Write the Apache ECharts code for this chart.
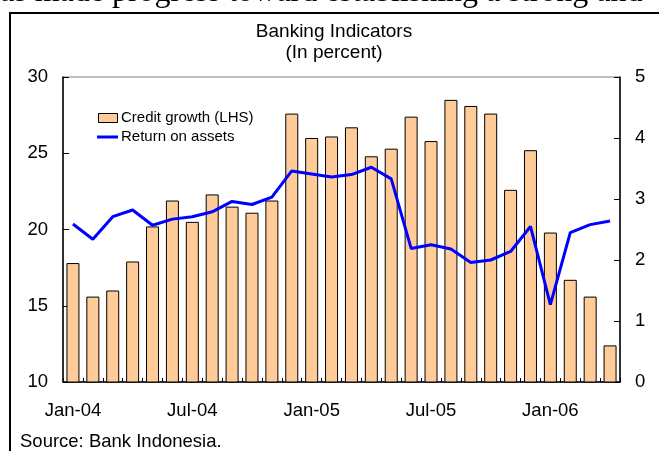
<!DOCTYPE html>
<html>
<head>
<meta charset="utf-8">
<script src="https://cdn.jsdelivr.net/npm/echarts@6/dist/echarts.min.js"></script>
<style>
  html, body { margin: 0; padding: 0; background: #fff; }
  #chart { width: 659px; height: 451px; }
</style>
</head>
<body>
<div id="chart"></div>
<script>
// Monthly categories, Jan-04 .. Apr-06
const months = [
  'Jan-04','Feb-04','Mar-04','Apr-04','May-04','Jun-04','Jul-04','Aug-04','Sep-04','Oct-04','Nov-04','Dec-04',
  'Jan-05','Feb-05','Mar-05','Apr-05','May-05','Jun-05','Jul-05','Aug-05','Sep-05','Oct-05','Nov-05','Dec-05',
  'Jan-06','Feb-06','Mar-06','Apr-06'
];

// Credit growth, percent (left axis)
const creditGrowth = [
  17.8, 15.6, 16.0, 17.9, 20.2, 21.9, 20.5, 22.3, 21.5, 21.1, 21.9, 27.6,
  26.0, 26.1, 26.7, 24.8, 25.3, 27.4, 25.8, 28.5, 28.1, 27.6, 22.6, 25.2,
  19.8, 16.7, 15.6, 12.4
];

// Return on assets, percent (right axis)
const returnOnAssets = [
  2.59, 2.34, 2.71, 2.82, 2.57, 2.67, 2.71, 2.79, 2.96, 2.91, 3.03, 3.46,
  3.41, 3.36, 3.40, 3.52, 3.33, 2.19, 2.25, 2.18, 1.96, 2.00, 2.14, 2.55,
  1.27, 2.45, 2.58, 2.64
];

const leftTicks = { min: 10, max: 30, interval: 5 };
const rightTicks = { min: 0, max: 5, interval: 1 };

const seriesNames = ['Credit growth (LHS)', 'Return on assets'];
const barColor = '#ffcc99';
const lineColor = '#0000ff';

const sansFont = '"Liberation Sans", Arial, sans-serif';
const fs = 18.5;

const chart = echarts.init(document.getElementById('chart'), null, { renderer: 'canvas' });

chart.setOption({
  backgroundColor: '#ffffff',
  animation: false,
  graphic: [
    // running text line of the surrounding page
    {
      type: 'text',
      left: 0,
      top: -23,
      style: {
        text: 'as made progress toward establishing a strong and',
        font: '32px "Liberation Serif", "Times New Roman", serif',
        fill: '#000'
      }
    },
    // figure frame
    {
      type: 'rect',
      shape: { x: 10, y: 13, width: 700, height: 500 },
      style: { fill: 'none', stroke: '#000', lineWidth: 2 }
    },
    // chart title
    {
      type: 'text',
      x: 334, y: 21,
      style: {
        text: 'Banking Indicators\n(In percent)',
        font: '19px ' + sansFont,
        lineHeight: 21,
        fill: '#000',
        align: 'center'
      }
    },
    // legend
    {
      type: 'rect',
      shape: { x: 98.5, y: 113.5, width: 19, height: 9 },
      style: { fill: barColor, stroke: '#000', lineWidth: 1 },
      z: 10
    },
    {
      type: 'text',
      x: 121, y: 118,
      style: { text: seriesNames[0], font: '15px ' + sansFont, fill: '#000', verticalAlign: 'middle' },
      z: 10
    },
    {
      type: 'line',
      shape: { x1: 97, y1: 137, x2: 118, y2: 137 },
      style: { stroke: lineColor, lineWidth: 3 },
      z: 10
    },
    {
      type: 'text',
      x: 121, y: 137,
      style: { text: seriesNames[1], font: '15px ' + sansFont, fill: '#000', verticalAlign: 'middle' },
      z: 10
    },
    // source note
    {
      type: 'text',
      left: 20,
      top: 432,
      style: { text: 'Source: Bank Indonesia.', font: fs + 'px ' + sansFont, fill: '#000' }
    }
  ],
  legend: { show: false },
  grid: {
    left: 63,
    right: 39,
    top: 77,
    bottom: 69,
    show: true,
    borderColor: '#7f7f7f',
    borderWidth: 1
  },
  xAxis: {
    type: 'category',
    data: months,
    boundaryGap: true,
    axisLine: { lineStyle: { color: '#000', width: 1.5 } },
    axisTick: { show: true, inside: true, length: 4, interval: 0, lineStyle: { color: '#000' } },
    axisLabel: {
      interval: 5,
      margin: 19,
      fontFamily: sansFont,
      fontSize: fs,
      color: '#000'
    },
    splitLine: { show: false }
  },
  yAxis: [
    {
      type: 'value',
      min: leftTicks.min,
      max: leftTicks.max,
      interval: leftTicks.interval,
      axisLine: { show: true, lineStyle: { color: '#000', width: 1.5 } },
      axisTick: { show: true, inside: true, length: 6, lineStyle: { color: '#000' } },
      axisLabel: { margin: 15, fontFamily: sansFont, fontSize: fs, color: '#000' },
      splitLine: { show: false }
    },
    {
      type: 'value',
      min: rightTicks.min,
      max: rightTicks.max,
      interval: rightTicks.interval,
      position: 'right',
      axisLine: { show: true, lineStyle: { color: '#000', width: 1.5 } },
      axisTick: { show: true, inside: true, length: 6, lineStyle: { color: '#000' } },
      axisLabel: { margin: 15, fontFamily: sansFont, fontSize: fs, color: '#000' },
      splitLine: { show: false }
    }
  ],
  series: [
    {
      name: seriesNames[0],
      type: 'bar',
      yAxisIndex: 0,
      data: creditGrowth,
      barWidth: 13,
      itemStyle: { color: barColor, borderColor: '#000', borderWidth: 1 }
    },
    {
      name: seriesNames[1],
      type: 'line',
      yAxisIndex: 1,
      data: returnOnAssets,
      symbol: 'none',
      lineStyle: { color: lineColor, width: 3 },
      itemStyle: { color: lineColor },
      z: 5
    }
  ]
});
</script>
</body>
</html>
